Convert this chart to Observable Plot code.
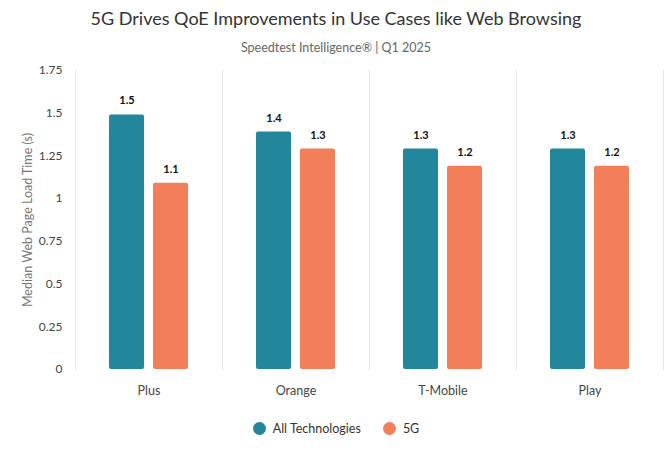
<!DOCTYPE html>
<html><head><meta charset="utf-8">
<script src="https://cdn.jsdelivr.net/npm/d3@7"></script>
<script src="https://cdn.jsdelivr.net/npm/@observablehq/plot@0.6"></script>
<style>
body{margin:0;background:#fff;font-family:Lato,"Open Sans",sans-serif;}
#wrap{width:672px;}
.title{height:36px;line-height:36px;text-align:center;font-size:18px;color:#333;}
.sub{height:24px;line-height:24px;text-align:center;font-size:12.5px;color:#666;}
.legend{display:flex;justify-content:center;align-items:center;gap:22px;margin-top:22px;font-size:12.5px;color:#333;}
.legend span.dot{display:inline-block;width:13px;height:13px;border-radius:50%;margin-right:7px;vertical-align:middle;}
.legend .item{display:flex;align-items:center;}
</style></head>
<body><div id="wrap">
<div class="title">5G Drives QoE Improvements in Use Cases like Web Browsing</div>
<div class="sub">Speedtest Intelligence® | Q1 2025</div>
<div id="chart"></div>
<div class="legend" id="legend"></div>
</div>
<script>
const carriers = ["Plus", "Orange", "T-Mobile", "Play"];
const seriesNames = ["All Technologies", "5G"];
const allTech = [1.49, 1.39, 1.29, 1.29];
const fiveG = [1.09, 1.29, 1.19, 1.19];
const colors = ["#23879c", "#f27f59"];
const yTicks = [0, 0.25, 0.5, 0.75, 1, 1.25, 1.5, 1.75];

const data = [];
carriers.forEach((c, i) => {
  data.push({carrier: c, series: seriesNames[0], value: allTech[i]});
  data.push({carrier: c, series: seriesNames[1], value: fiveG[i]});
});

const chart = Plot.plot({
  width: 672,
  height: 339,
  marginTop: 10,
  marginLeft: 74,
  marginRight: 9,
  marginBottom: 30,
  style: {fontFamily: "Lato, 'Open Sans', sans-serif", fontSize: "12px", color: "#444"},
  fx: {domain: carriers, padding: 0, label: null},
  x: {domain: seriesNames, paddingInner: 0.205, paddingOuter: 0.77, axis: null},
  y: {domain: [0, 1.75], ticks: yTicks, label: null},
  color: {domain: seriesNames, range: colors},
  marks: [
    Plot.frame({anchor: "left", stroke: "#e6e6e6"}),
    Plot.frame({anchor: "right", stroke: "#e6e6e6"}),
    Plot.axisY({ticks: yTicks, tickSize: 0, tickPadding: 13, tickFormat: d => String(d), fontSize: 12,
      label: "Median Web Page Load Time (s)", labelAnchor: "center", labelArrow: "none", labelOffset: 52}),
    Plot.axisFx({anchor: "bottom", tickSize: 0, tickPadding: 17, fontSize: 12.5, label: null}),
    Plot.barY(data, {fx: "carrier", x: "series", y: "value", fill: "series", rx: 2}),
    Plot.text(data, {fx: "carrier", x: "series", y: "value", text: d => d.value.toFixed(1), dy: -14,
      fontWeight: "bold", fontSize: 11, fill: "#111"})
  ]
});
document.getElementById("chart").appendChild(chart);
d3.select(chart).selectAll("[aria-label='y-axis label'] text").attr("fill", "#777").style("font-size", "12.5px");

const lg = d3.select("#legend");
seriesNames.forEach((s, i) => {
  const it = lg.append("div").attr("class", "item");
  it.append("span").attr("class", "dot").style("background", colors[i]);
  it.append("span").text(s);
});
</script>
</body></html>
